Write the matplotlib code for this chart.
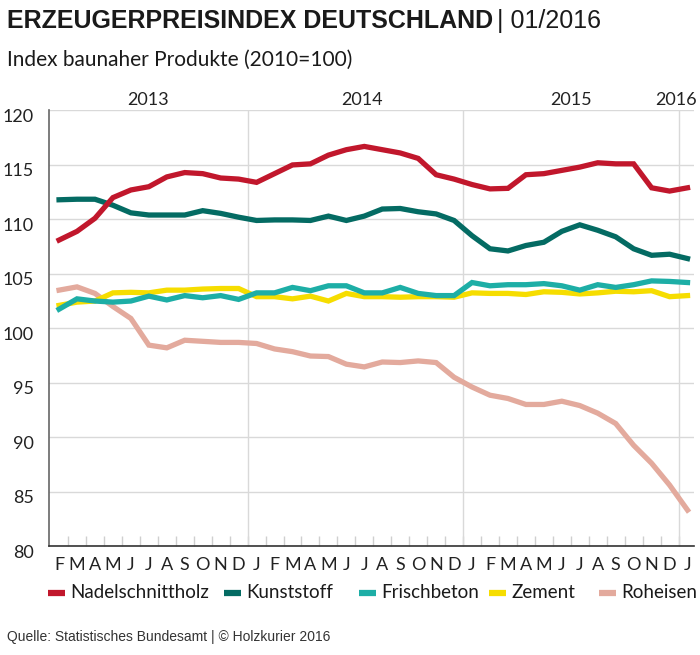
import matplotlib
matplotlib.use("Agg")
import matplotlib.pyplot as plt
from matplotlib.lines import Line2D
from matplotlib.transforms import ScaledTranslation

# months Feb 2013 .. Jan 2016
months = ["F", "M", "A", "M", "J", "J", "A", "S", "O", "N", "D",
          "J", "F", "M", "A", "M", "J", "J", "A", "S", "O", "N", "D",
          "J", "F", "M", "A", "M", "J", "J", "A", "S", "O", "N", "D",
          "J"]

nadelschnittholz = [108.1, 108.9, 110.1, 112.0, 112.7, 113.0, 113.9, 114.3, 114.2, 113.8, 113.7,
                    113.4, 114.2, 115.0, 115.1, 115.9, 116.4, 116.7, 116.4, 116.1, 115.6, 114.1, 113.7,
                    113.2, 112.8, 112.85, 114.1, 114.2, 114.5, 114.8, 115.2, 115.1, 115.1, 112.9, 112.6,
                    112.9]
kunststoff = [111.8, 111.85, 111.85, 111.3, 110.6, 110.4, 110.4, 110.4, 110.8, 110.55, 110.2,
              109.9, 109.95, 109.95, 109.9, 110.3, 109.9, 110.3, 110.95, 111.0, 110.7, 110.5, 109.9,
              108.5, 107.3, 107.1, 107.6, 107.9, 108.9, 109.5, 109.0, 108.4, 107.3, 106.7, 106.8,
              106.4]
frischbeton = [101.75, 102.7, 102.5, 102.4, 102.5, 102.95, 102.6, 103.0, 102.8, 103.0, 102.65,
               103.25, 103.25, 103.75, 103.45, 103.9, 103.9, 103.25, 103.25, 103.75, 103.2, 103.0, 103.0,
               104.2, 103.9, 104.0, 104.0, 104.1, 103.9, 103.5, 104.0, 103.75, 104.0, 104.35, 104.3,
               104.2]
zement = [102.1, 102.4, 102.5, 103.25, 103.3, 103.25, 103.5, 103.5, 103.6, 103.65, 103.65,
          102.9, 102.9, 102.7, 102.95, 102.5, 103.2, 102.9, 102.9, 102.85, 102.9, 102.9, 102.85,
          103.25, 103.2, 103.2, 103.1, 103.35, 103.3, 103.15, 103.25, 103.4, 103.35, 103.45, 102.9,
          103.0]
roheisen = [103.5, 103.8, 103.2, 102.0, 100.9, 98.45, 98.2, 98.9, 98.8, 98.7, 98.7,
            98.6, 98.1, 97.85, 97.45, 97.4, 96.7, 96.45, 96.9, 96.85, 97.0, 96.85, 95.5,
            94.6, 93.85, 93.55, 93.0, 93.0, 93.3, 92.9, 92.2, 91.25, 89.25, 87.6, 85.6,
            83.3]

series_names = ["Nadelschnittholz", "Kunststoff", "Frischbeton", "Zement", "Roheisen"]
series_colors = ["#c1172c", "#046b63", "#1daea6", "#f6dd00", "#e3aa9d"]

years = ["2013", "2014", "2015", "2016"]
year_pos = [4.95, 16.9, 28.5, 34.35]
year_breaks = [10.5, 22.5, 34.5]

BODY = ["Lato", "DejaVu Sans"]
NARROW = ["Liberation Sans", "DejaVu Sans"]

W, H = 700, 655
fig = plt.figure(figsize=(7, 6.55), dpi=100)
ax = fig.add_axes([0.07, 0.1664, 0.9214, 0.6649])

x = list(range(len(months)))
data = [nadelschnittholz, kunststoff, frischbeton, zement, roheisen]
for i in [4, 3, 2, 1, 0]:
    ax.plot(x, data[i], color=series_colors[i], linewidth=3.8,
            solid_joinstyle="miter", zorder=3 + (4 - i))

ax.set_xlim(-0.56, 35.36)
ax.set_ylim(80, 120)
ax.set_yticks(range(80, 121, 5))
ax.yaxis.grid(True, color="#d9d9d9", linewidth=1)
for b in year_breaks:
    ax.axvline(b, color="#d9d9d9", linewidth=1, zorder=1)
ax.set_axisbelow(True)

for s in ["top", "right"]:
    ax.spines[s].set_visible(False)
ax.spines["left"].set_color("#666666")
ax.spines["bottom"].set_color("#333333")
ax.spines["left"].set_linewidth(1.2)
ax.spines["bottom"].set_linewidth(1.2)

ax.set_xticks(x)
ax.set_xticklabels(months, family=BODY, fontsize=13, color="#222222")
ax.set_xticks([i + 0.5 for i in range(len(months) - 1)], minor=True)
ax.tick_params(axis="x", which="major", length=0, pad=8)
ax.tick_params(axis="x", which="minor", direction="in", length=7,
               color="#cfcfcf", width=1)
ax.tick_params(axis="y", length=0, pad=11, labelsize=13, labelcolor="#222222")
off = ScaledTranslation(0, -5 / 100, fig.dpi_scale_trans)
for lab in ax.get_yticklabels():
    lab.set_family(BODY)
    lab.set_transform(lab.get_transform() + off)

for yr, xp in zip(years, year_pos):
    ax.text(xp, 1.025, yr, transform=ax.get_xaxis_transform(), ha="center",
            va="center", fontsize=13, family=BODY, color="#222222")

# title
t1 = fig.text(7 / W, 1 - 21 / H, "ERZEUGERPREISINDEX DEUTSCHLAND",
              fontsize=18, fontweight="bold", family=NARROW, va="center",
              color="#1a1a1a")
fig.canvas.draw()
bb = t1.get_window_extent()
fig.text((bb.x1 + 4) / W, 1 - 21 / H, "| 01/2016", fontsize=18,
         family=NARROW, va="center", color="#1a1a1a")
fig.text(7 / W, 1 - 60 / H, "Index baunaher Produkte (2010=100)",
         fontsize=15, family=BODY, va="center", color="#1a1a1a")

# legend, placed by hand like the original
leg_x = [48, 224, 359, 489, 599]
leg_y = 1 - 593 / H
for lx, name, col in zip(leg_x, series_names, series_colors):
    fig.add_artist(Line2D([lx / W, (lx + 17) / W], [leg_y, leg_y],
                          color=col, linewidth=4.5,
                          solid_capstyle="butt", transform=fig.transFigure))
    fig.text((lx + 22) / W, leg_y, name, fontsize=13.5, family=BODY,
             va="center", color="#1a1a1a")

fig.text(7 / W, 1 - 637 / H,
         "Quelle: Statistisches Bundesamt | \u00a9 Holzkurier 2016",
         fontsize=10, family=NARROW, va="center", color="#333333")

fig.savefig("out.png", dpi=100)
